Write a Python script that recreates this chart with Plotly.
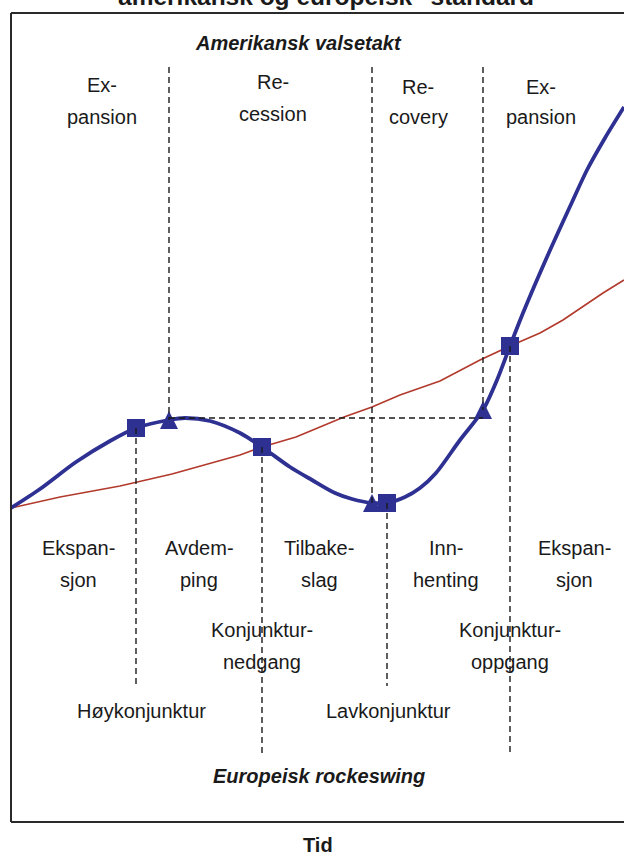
import plotly.graph_objects as go

# ---- data (time on x, activity level on y) ----
blue_t = [0, 29, 65, 99, 125, 158, 174, 199, 229, 251, 279, 301, 324, 341, 361, 376,
          394, 409, 425, 449, 472, 486, 499, 512, 536, 562, 576, 594, 613]
blue_y = [314, 333, 360, 381, 394, 402, 404, 401, 389, 375, 355, 342, 329, 323, 319, 319,
          325, 334, 349, 382, 412, 442, 476, 509, 565, 622, 652, 684, 715]

trend_t = [0, 49, 109, 161, 229, 251, 285, 333, 361, 389, 429, 469, 499, 529, 552, 592, 613]
trend_y = [314, 325, 336, 348, 367, 375, 385, 405, 415, 427, 441, 462, 476, 489, 502, 529, 542]

# European turning points (squares) and American turning points (triangles)
sq_t = [125, 251, 376, 499]
sq_y = [394, 375, 319, 476]
sq_end = [136, 67, 136, 67]          # lower end of the guide lines
tri_t = [158, 361, 472]
tri_y = [402, 319, 412]
top_guide = 755                      # upper end of the American guide lines
peak_level = 404                     # horizontal guide

top_labels = [("Ex-", "pansion", 91, 737, 705), ("Re-", "cession", 262, 740, 708),
              ("Re-", "covery", 407, 735, 705), ("Ex-", "pansion", 530, 735, 705)]
low_labels = [("Ekspan-", "sjon", 67, 274, 242), ("Avdem-", "ping", 188, 274, 242),
              ("Tilbake-", "slag", 308, 274, 242), ("Inn-", "henting", 435, 274, 242),
              ("Ekspan-", "sjon", 563, 274, 242),
              ("Konjunktur-", "nedgang", 251, 192, 160),
              ("Konjunktur-", "oppgang", 499, 192, 160)]
phase_labels = [("Høykonjunktur", 130, 111), ("Lavkonjunktur", 377, 111)]

BLUE = "#2e3192"
RED = "#b23a2c"
FONT = "Liberation Sans, Arial, sans-serif"
Y_TOP = 809

fig = go.Figure()
fig.add_trace(go.Scatter(x=trend_t, y=trend_y, mode="lines",
                         line=dict(color=RED, width=1.6), hoverinfo="skip"))
fig.add_trace(go.Scatter(x=blue_t, y=blue_y, mode="lines",
                         line=dict(color=BLUE, width=3.8, shape="spline", smoothing=0.8),
                         hoverinfo="skip"))
fig.add_trace(go.Scatter(x=sq_t, y=sq_y, mode="markers",
                         marker=dict(symbol="square", size=18, color=BLUE,
                                     line=dict(width=0)), hoverinfo="skip"))
# arrow-up symbol has its apex at the point, so lift it by half its height
TRI = 18
fig.add_trace(go.Scatter(x=tri_t, y=[v + TRI / 2 for v in tri_y], mode="markers",
                         marker=dict(symbol="arrow-up", size=TRI, color=BLUE,
                                     line=dict(width=0)), hoverinfo="skip"))

shapes = []
dash = dict(color="#1a1a1a", width=1.4, dash="6px,4px")
for t, y in zip(tri_t, tri_y):
    shapes.append(dict(type="line", xref="x", yref="y", x0=t, x1=t, y0=top_guide, y1=y,
                       line=dash, layer="above"))
shapes.append(dict(type="line", xref="x", yref="y", x0=tri_t[0], x1=tri_t[-1],
                   y0=peak_level, y1=peak_level, line=dash, layer="above"))
for t, y, e in zip(sq_t, sq_y, sq_end):
    shapes.append(dict(type="line", xref="x", yref="y", x0=t, x1=t, y0=y, y1=e,
                       line=dash, layer="above"))
frame = dict(color="#2a2a2a", width=2)
shapes += [
    dict(type="line", xref="paper", yref="paper", x0=0, x1=0, y0=0, y1=1, line=frame),
    dict(type="line", xref="paper", yref="paper", x0=0, x1=1.1, y0=1, y1=1, line=frame),
    dict(type="line", xref="paper", yref="paper", x0=0, x1=1.1, y0=0, y1=0, line=frame),
]

ann = []
def txt(s, x, y, size=20, bold=False, italic=False, paper=False):
    t = s
    if bold:
        t = "<b>" + t + "</b>"
    if italic:
        t = "<i>" + t + "</i>"
    d = dict(text=t, x=x, y=y, xref="x", yref="y", showarrow=False,
             xanchor="center", yanchor="middle",
             font=dict(family=FONT, size=size, color="#1a1a1a"))
    if paper:
        d.update(xref="paper", yref="paper", x=x / 613, y=y / Y_TOP)
    ann.append(d)

txt("amerikansk og europeisk \"standard\"", 321, 826, size=24.5, bold=True, paper=True)
txt("Amerikansk valsetakt", 287, 779, size=20, bold=True, italic=True)
for a, b, x, y1, y2 in top_labels + low_labels:
    txt(a, x, y1)
    txt(b, x, y2)
for s, x, y in phase_labels:
    txt(s, x, y)
txt("Europeisk rockeswing", 308, 46, size=20, bold=True, italic=True)
txt("Tid", 307, -23, size=20, bold=True, paper=True)

fig.update_layout(
    width=624, height=855,
    margin=dict(l=11, r=0, t=13, b=33, autoexpand=False),
    paper_bgcolor="white", plot_bgcolor="white",
    showlegend=False,
    xaxis=dict(range=[0, 613], visible=False, fixedrange=True),
    yaxis=dict(range=[0, Y_TOP], visible=False, fixedrange=True),
    shapes=shapes, annotations=ann,
)
fig.write_html("out.html", config={"displayModeBar": False},
               post_script="document.body.style.margin='0';")
